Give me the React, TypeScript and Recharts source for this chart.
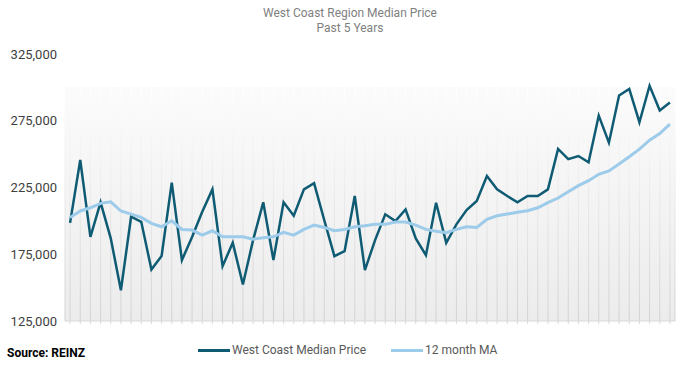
import {
  ComposedChart,
  Line,
  XAxis,
  YAxis,
  CartesianGrid,
} from 'recharts';

// Monthly observations over the past 5 years (60 months)
const months: string[] = Array.from({ length: 60 }, (_, i) => `M${i + 1}`);

const medianPrice: number[] = [
  198500, 245600, 188000, 213900, 186900, 148000, 203100, 199300, 163600, 173600,
  228600, 170600, 188000, 206800, 223600, 166100, 183600, 152300, 185600, 213900,
  170600, 213900, 203800, 223600, 228200, 200600, 173600, 177300, 218600, 163100,
  185600, 204900, 199800, 208600, 186900, 174300, 213600, 183600, 197400, 208100,
  214900, 233600, 223600, 218600, 213900, 218600, 218600, 223600, 253900, 246200,
  248600, 243900, 278900, 258600, 293900, 298900, 273900, 301200, 282700, 288700,
];

const movingAvg: number[] = [
  202600, 207400, 209800, 213100, 214300, 207400, 205100, 202600, 198100, 195600,
  200100, 193600, 193100, 189300, 192600, 188100, 188100, 188100, 186300, 187300,
  188100, 191400, 189300, 193600, 196800, 195100, 192600, 193600, 195600, 196300,
  197400, 197400, 199100, 199100, 196800, 193600, 192300, 191100, 193600, 195600,
  195100, 201100, 203800, 205100, 206400, 207600, 209800, 213600, 217100, 221800,
  226400, 230100, 234900, 237400, 242600, 248100, 253700, 260400, 265400, 272400,
];

const yTicks: number[] = [125000, 175000, 225000, 275000, 325000];

const DARK = '#0f5b74';
const LIGHT = '#9dcbea';

const data = months.map((m, i) => ({
  month: m,
  price: medianPrice[i],
  ma: movingAvg[i],
}));

const font = 'Roboto, "Noto Sans", sans-serif';

export default function App() {
  return (
    <div style={{ position: 'absolute', left: 0, top: 0, width: 685, height: 367, background: '#fff' }}>
      <div
        style={{
          position: 'absolute',
          left: 0,
          top: 6,
          width: 700,
          textAlign: 'center',
          fontFamily: font,
          fontSize: 12,
          lineHeight: '15px',
          color: '#7f7f7f',
        }}
      >
        West Coast Region Median Price
        <br />
        Past 5 Years
      </div>
      <div
        style={{
          position: 'absolute',
          left: 7,
          top: 346,
          fontFamily: font,
          fontSize: 12,
          fontWeight: 700,
          color: '#000',
        }}
      >
        Source: REINZ
      </div>
      {/* legend */}
      <div
        style={{
          position: 'absolute',
          left: 198,
          top: 343,
          display: 'flex',
          alignItems: 'center',
          fontFamily: font,
          fontSize: 12,
          color: '#595959',
        }}
      >
        <span style={{ display: 'inline-block', width: 32, height: 3, background: DARK }} />
        <span style={{ marginLeft: 2 }}>West Coast Median Price</span>
        <span
          style={{ display: 'inline-block', width: 32, height: 3, background: LIGHT, marginLeft: 25 }}
        />
        <span style={{ marginLeft: 2 }}>12 month MA</span>
      </div>
      <ComposedChart
        width={685}
        height={367}
        data={data}
        margin={{ top: 54, right: 10, bottom: 41, left: 0 }}
      >
        <defs>
          <linearGradient id="bgGrad" gradientUnits="userSpaceOnUse" x1="0" y1="54" x2="0" y2="321">
            <stop offset="0" stopColor="#ffffff" />
            <stop offset="0.124" stopColor="#ffffff" />
            <stop offset="0.124" stopColor="#fbfbfb" />
            <stop offset="1" stopColor="#ececec" />
          </linearGradient>
          <linearGradient id="gridGrad" gradientUnits="userSpaceOnUse" x1="0" y1="87" x2="0" y2="321">
            <stop offset="0" stopColor="#ffffff" />
            <stop offset="1" stopColor="#d2d2d2" />
          </linearGradient>
        </defs>
        <CartesianGrid
          horizontal={false}
          vertical
          fill="url(#bgGrad)"
          stroke="url(#gridGrad)"
          strokeWidth={1}
        />
        <XAxis
          dataKey="month"
          scale="band"
          height={5}
          interval={0}
          tick={() => <g />}
          tickSize={3}
          tickLine={{ stroke: '#d9d9d9' }}
          axisLine={{ stroke: '#d9d9d9' }}
        />
        <YAxis
          domain={[125000, 325000]}
          ticks={yTicks}
          width={65}
          axisLine={false}
          tickLine={false}
          tickFormatter={(v: number) => v.toLocaleString('en-US')}
          tick={{ fontSize: 13, fill: '#404040', fontFamily: font }}
        />
        <Line
          type="linear"
          dataKey="price"
          name="West Coast Median Price"
          stroke={DARK}
          strokeWidth={2.5}
          dot={false}
          isAnimationActive={false}
        />
        <Line
          type="linear"
          dataKey="ma"
          name="12 month MA"
          stroke={LIGHT}
          strokeWidth={3}
          dot={false}
          isAnimationActive={false}
        />
      </ComposedChart>
    </div>
  );
}
